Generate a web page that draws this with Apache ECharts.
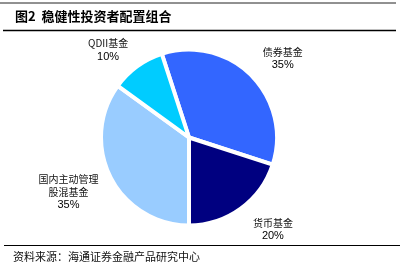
<!DOCTYPE html>
<html>
<head>
<meta charset="utf-8">
<script src="https://cdn.jsdelivr.net/npm/echarts@6/dist/echarts.min.js"></script>
<style>
  html, body { margin: 0; padding: 0; background: #fff; }
  #chart { width: 401px; height: 272px; }
</style>
</head>
<body>
<div id="chart"></div>
<script>
// Portfolio allocation for a balanced (稳健性) investor
const categories = ['债券基金', '货币基金', '国内主动管理\n股混基金', 'QDII基金'];
const shares = [35, 20, 35, 10];
const sliceColors = ['#3366FF', '#000080', '#99CCFF', '#00CCFF'];

const titleText = '图2  稳健性投资者配置组合';
const sourceText = '资料来源：海通证券金融产品研究中心';

// small per-label nudges [dx, dy] away from the slice mid-angle position
const labelNudge = [[6, 9], [11, -8], [-10, -2], [-8, 13]];

const cjk = '"Noto Sans CJK SC", "Liberation Sans", sans-serif';
const pieData = categories.map((name, i) => ({
  name: name,
  value: shares[i],
  itemStyle: { color: sliceColors[i] }
}));

const chart = echarts.init(document.getElementById('chart'), null, { renderer: 'canvas' });
chart.setOption({
  backgroundColor: '#fff',
  animation: false,
  title: {
    text: titleText,
    left: 10,
    top: 5,
    textStyle: { fontFamily: cjk, fontSize: 13, fontWeight: 'bold', color: '#000' }
  },
  graphic: [
    { type: 'line', shape: { x1: 0, y1: 3, x2: 396, y2: 3 }, style: { stroke: '#222', lineWidth: 1 } },
    { type: 'line', shape: { x1: 3, y1: 30.5, x2: 396, y2: 30.5 }, style: { stroke: '#000', lineWidth: 1.5 } },
    { type: 'line', shape: { x1: 4, y1: 245.5, x2: 400, y2: 245.5 }, style: { stroke: '#000', lineWidth: 1.2 } },
    {
      type: 'text', left: 13, top: 251,
      style: { text: sourceText, fontFamily: cjk, fontSize: 11, fill: '#111' }
    }
  ],
  series: [
    {
      // the pie itself
      type: 'pie',
      center: [189, 137.5],
      radius: [0, 88],
      startAngle: 108,
      clockwise: true,
      silent: true,
      label: { show: false },
      labelLine: { show: false },
      itemStyle: { borderColor: '#fff', borderWidth: 4 },
      data: pieData
    },
    {
      // invisible ring whose middle carries the category labels around the pie
      type: 'pie',
      center: [189, 137.5],
      radius: [88, 154],
      startAngle: 108,
      clockwise: true,
      silent: true,
      itemStyle: { color: 'rgba(0,0,0,0)' },
      labelLine: { show: false },
      label: {
        show: true,
        position: 'inside',
        formatter: function (p) {
          const lines = p.name.split('\n').map(s => '{n|' + s + '}');
          return lines.join('\n') + '\n{v|' + p.value + '%}';
        },
        color: '#000',
        rich: {
          n: { fontFamily: cjk, fontSize: 10, lineHeight: 13, color: '#111' },
          v: { fontFamily: '"Liberation Sans", Arial, sans-serif', fontSize: 11, lineHeight: 13, color: '#000' }
        }
      },
      labelLayout: function (params) {
        const n = labelNudge[params.dataIndex] || [0, 0];
        return { dx: n[0], dy: n[1] };
      },
      data: categories.map((name, i) => ({ name: name, value: shares[i] }))
    }
  ]
});
</script>
</body>
</html>
